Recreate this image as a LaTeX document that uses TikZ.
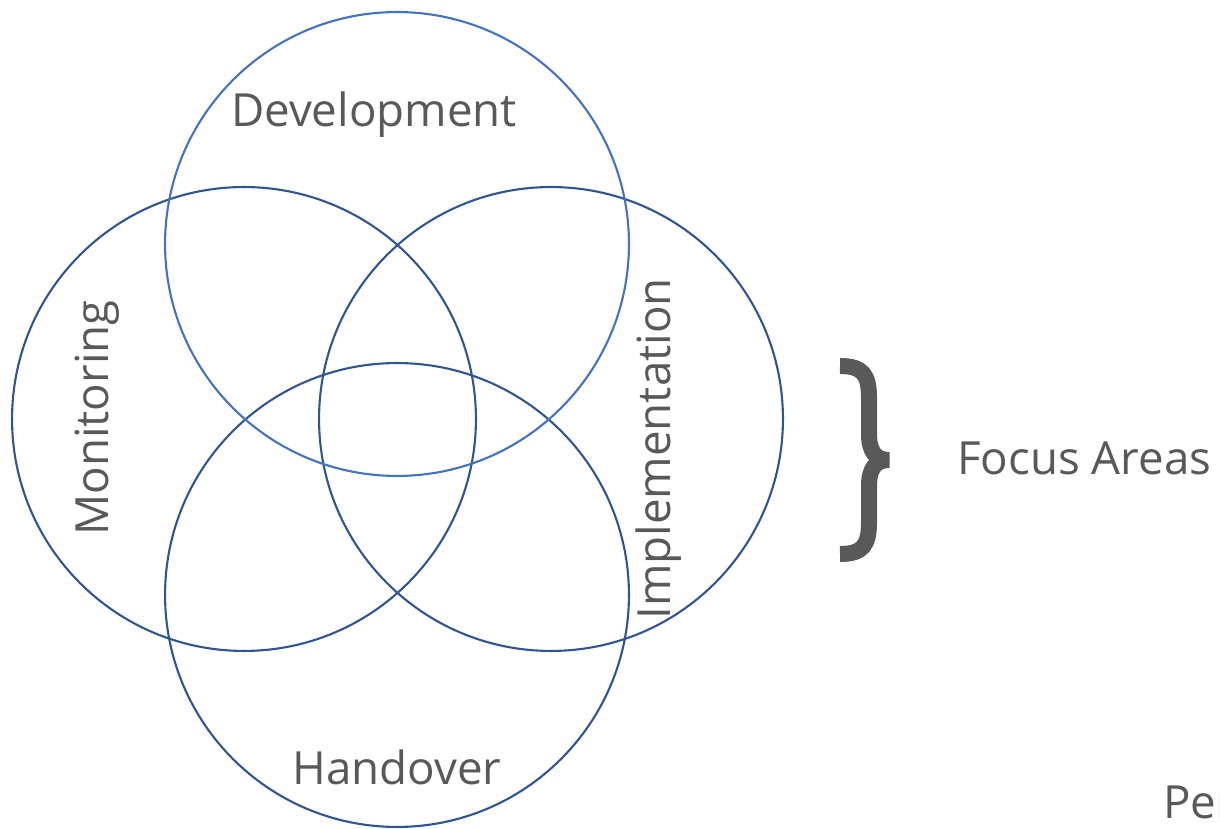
\documentclass[tikz,border=0pt]{standalone}
\usepackage{fontspec}
\setmainfont{Open Sans}
\definecolor{areablue}{HTML}{2F5597}
\definecolor{devblue}{HTML}{4472C4}
\definecolor{labelgray}{HTML}{595959}

\begin{document}
\begin{tikzpicture}[x=0.02cm, y=0.02cm]
        \tikzstyle{every node}=[inner sep=0pt, text=labelgray, font=\fontsize{26}{30}\selectfont]
        \tikzstyle{area}=[circle, draw=areablue, line width=1.2pt, minimum size=9.28cm]
        \tikzstyle{brace}=[labelgray, line width=16*0.02cm, line join=miter]

        \useasboundingbox (0,0) rectangle (1220,828);

        % the four focus areas
        \node[area] (mon) at (244,409) {};
        \node[area] (imp) at (551,409) {};
        \node[area] (han) at (397,233) {};
        \node[area, draw=devblue] (dev) at (397,584) {};

        \node[anchor=base] (devlabel) at (374,701) {Development};
        \node[anchor=base] (hanlabel) at (397,43) {Handover};
        \node[anchor=base, rotate=90] (monlabel) at (108,410) {Monitoring};
        \node[anchor=base, rotate=90] (implabel) at (670,379) {Implementation};

        % brace and captions
        \draw[brace] (840,462) .. controls (863,462) and (869,453) .. (869,430) -- (869,394)
              .. controls (869,376) and (876,368) .. (889,368)
              .. controls (876,368) and (869,360) .. (869,342) -- (869,306)
              .. controls (869,283) and (863,274) .. (840,274);

        \node[anchor=base west] (focus) at (957,353) {Focus Areas};
        \node[anchor=base west] (per) at (1163,10) {Per};
\end{tikzpicture}
\end{document}
